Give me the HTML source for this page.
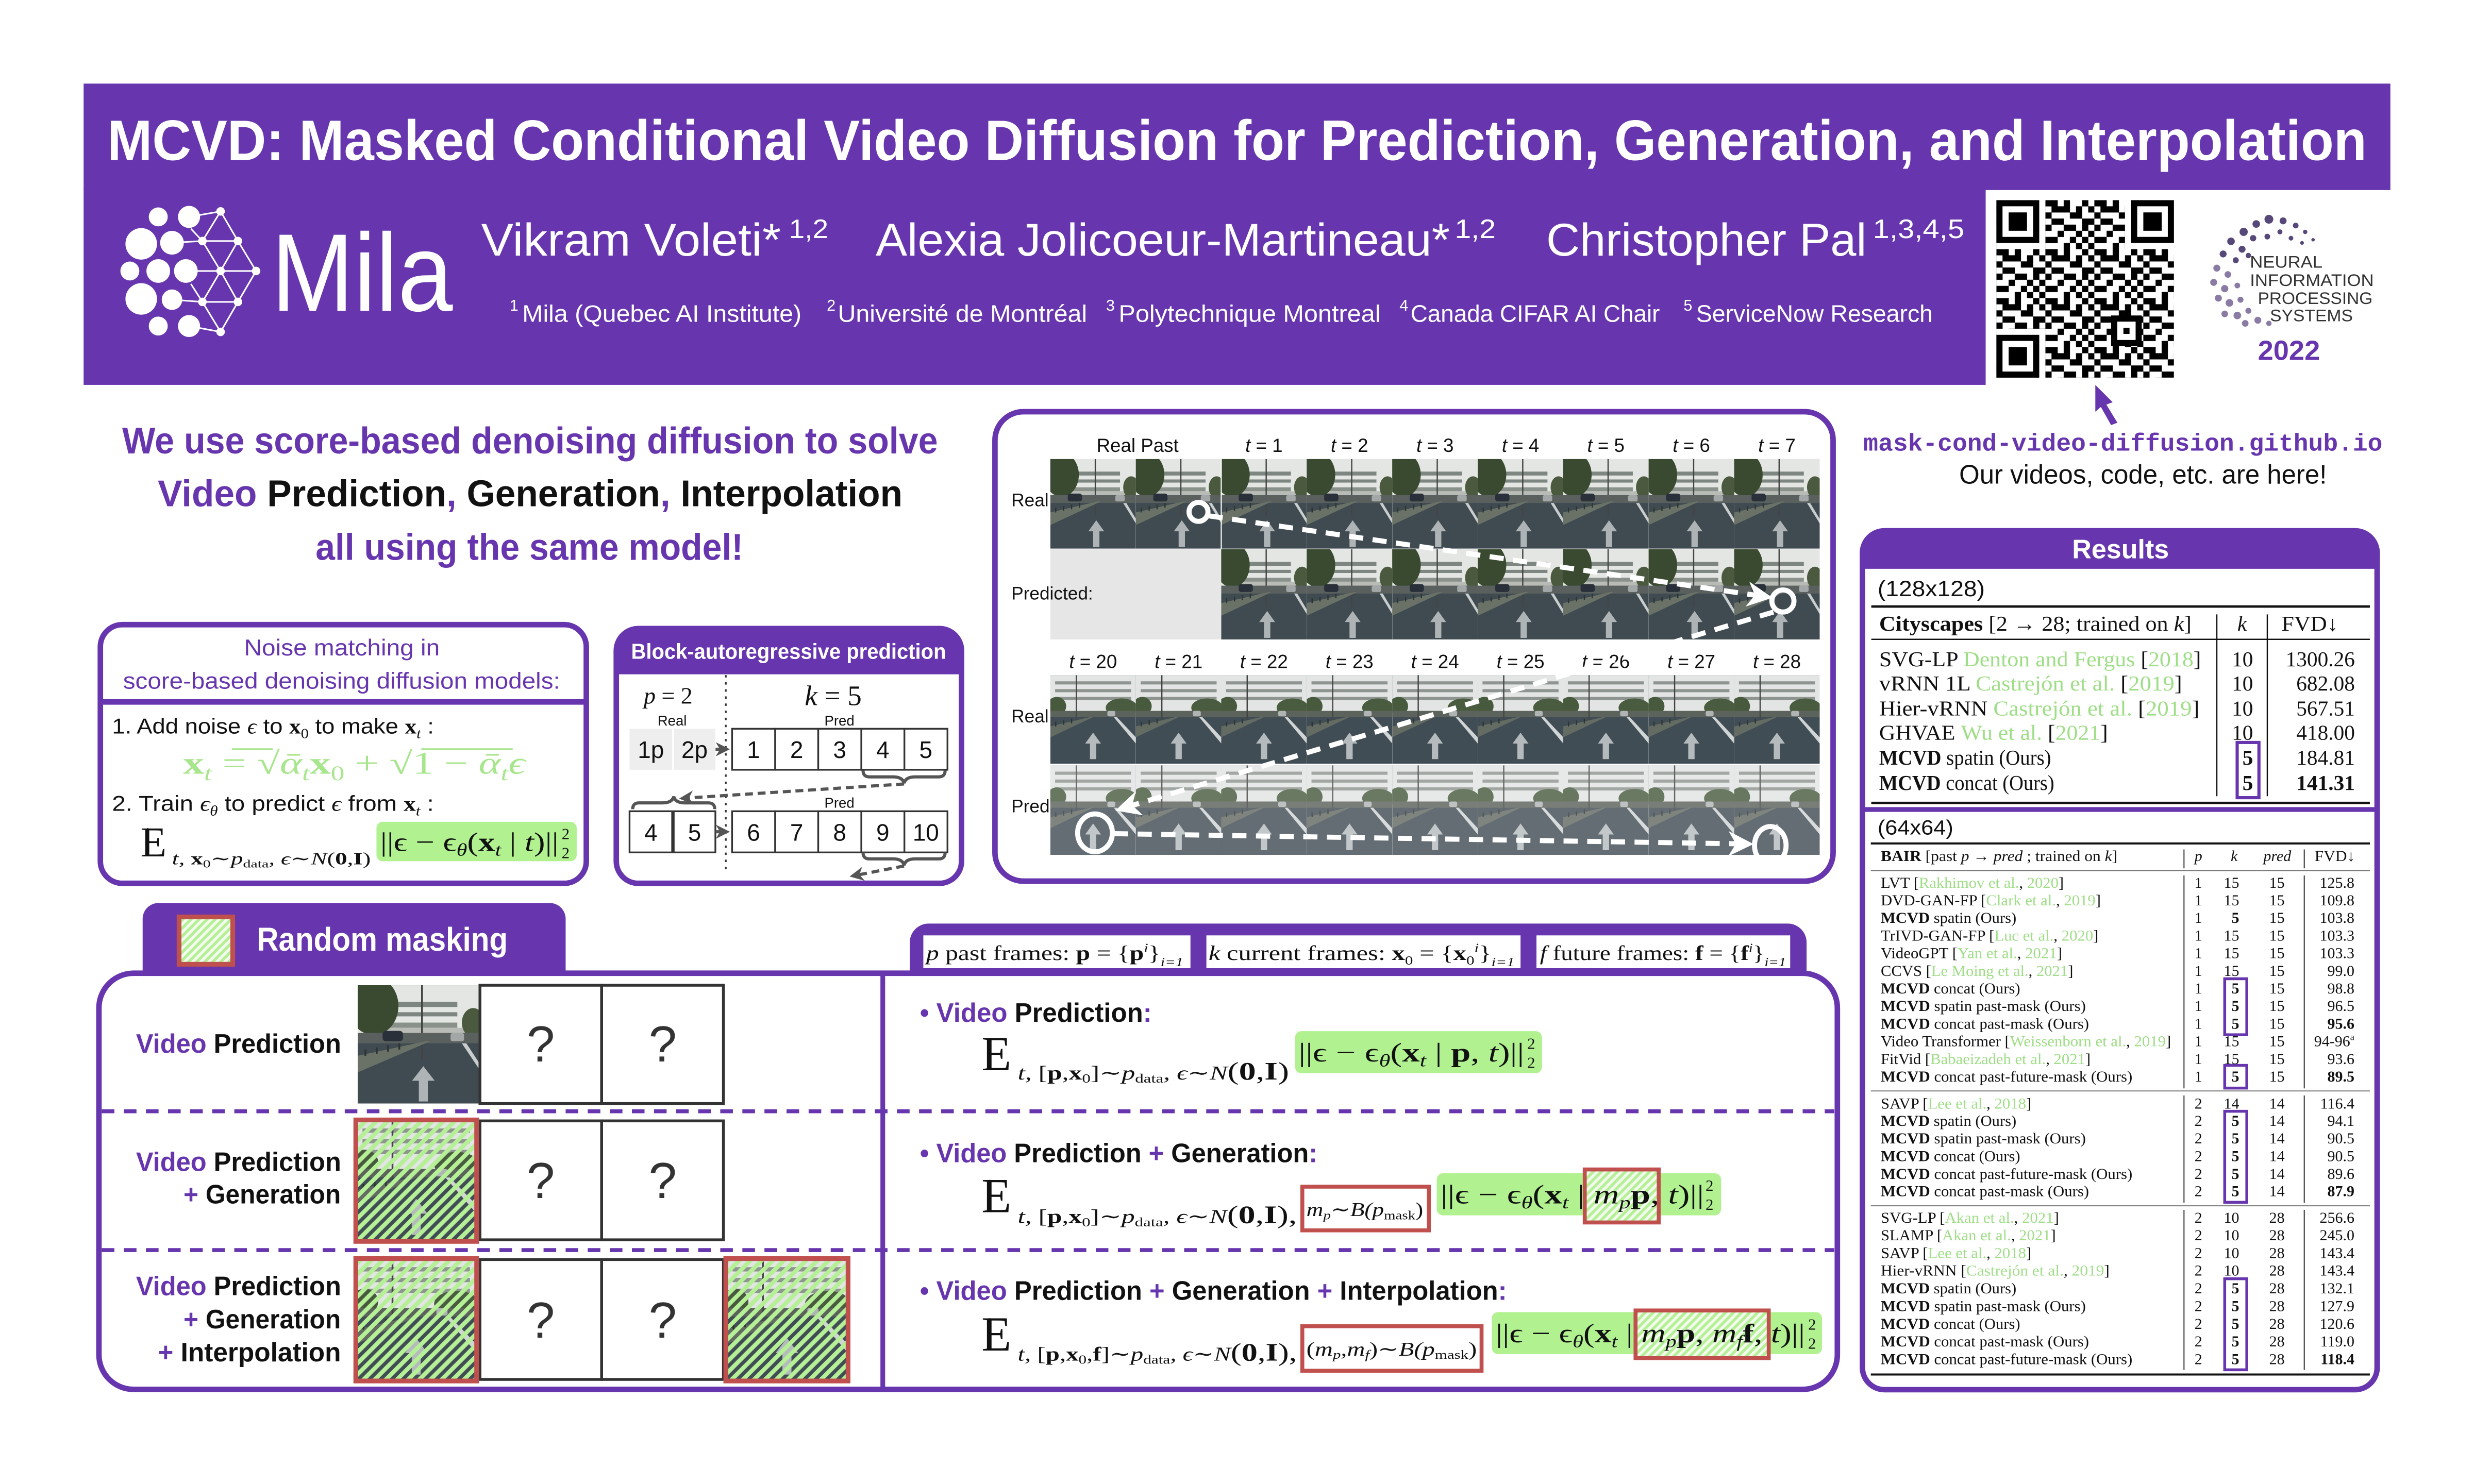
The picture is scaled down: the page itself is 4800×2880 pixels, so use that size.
<!DOCTYPE html>
<html><head><meta charset="utf-8"><title>MCVD poster</title>
<style>html,body{margin:0;padding:0;background:#fff;width:4800px;height:2880px;overflow:hidden}svg{display:block}</style></head>
<body>
<svg xmlns="http://www.w3.org/2000/svg" width="4800" height="2880" viewBox="0 0 1568 940.8" preserveAspectRatio="none" font-family="'Liberation Sans','DejaVu Sans',sans-serif">
<defs>
 <pattern id="qr" x="1265.3" y="126.9" width="31.04" height="31.04" patternUnits="userSpaceOnUse">
  <g fill="#000">
   <rect x="0" y="0" width="3.95" height="3.95"/><rect x="3.88" y="0" width="3.95" height="3.95"/><rect x="11.64" y="0" width="3.95" height="3.95"/><rect x="23.28" y="0" width="3.95" height="3.95"/>
   <rect x="3.88" y="3.88" width="3.95" height="3.95"/><rect x="7.76" y="3.88" width="3.95" height="3.95"/><rect x="11.64" y="3.88" width="3.95" height="3.95"/><rect x="19.4" y="3.88" width="3.95" height="3.95"/><rect x="27.16" y="3.88" width="3.95" height="3.95"/>
   <rect x="0" y="7.76" width="3.95" height="3.95"/><rect x="15.52" y="7.76" width="3.95" height="3.95"/><rect x="19.4" y="7.76" width="3.95" height="3.95"/>
   <rect x="3.88" y="11.64" width="3.95" height="3.95"/><rect x="7.76" y="11.64" width="3.95" height="3.95"/><rect x="23.28" y="11.64" width="3.95" height="3.95"/><rect x="27.16" y="11.64" width="3.95" height="3.95"/>
   <rect x="0" y="15.52" width="3.95" height="3.95"/><rect x="11.64" y="15.52" width="3.95" height="3.95"/><rect x="15.52" y="15.52" width="3.95" height="3.95"/><rect x="23.28" y="15.52" width="3.95" height="3.95"/>
   <rect x="7.76" y="19.4" width="3.95" height="3.95"/><rect x="19.4" y="19.4" width="3.95" height="3.95"/><rect x="27.16" y="19.4" width="3.95" height="3.95"/>
   <rect x="0" y="23.28" width="3.95" height="3.95"/><rect x="3.88" y="23.28" width="3.95" height="3.95"/><rect x="15.52" y="23.28" width="3.95" height="3.95"/><rect x="23.28" y="23.28" width="3.95" height="3.95"/>
   <rect x="11.64" y="27.16" width="3.95" height="3.95"/><rect x="19.4" y="27.16" width="3.95" height="3.95"/><rect x="27.16" y="27.16" width="3.95" height="3.95"/>
  </g>
 </pattern>
 <pattern id="hatch" width="5" height="5" patternUnits="userSpaceOnUse" patternTransform="rotate(45)"><rect width="2.7" height="5" fill="#b5ef96"/></pattern>
 <pattern id="hatchw" width="3.6" height="3.6" patternUnits="userSpaceOnUse" patternTransform="rotate(45)"><rect width="3.6" height="3.6" fill="#f2fcec"/><rect width="1.8" height="3.6" fill="#b5ef96"/></pattern>
 <marker id="mw" viewBox="0 0 10 10" refX="6" refY="5" markerWidth="16" markerHeight="16" markerUnits="userSpaceOnUse" orient="auto"><path d="M0,0 L10,5 L0,10 L3,5 Z" fill="#fff"/></marker>
 <marker id="mg" viewBox="0 0 10 10" refX="6" refY="5" markerWidth="9" markerHeight="9" markerUnits="userSpaceOnUse" orient="auto"><path d="M0,0 L10,5 L0,10 L3,5 Z" fill="#555"/></marker>
 <symbol id="fa" viewBox="0 0 54 57" preserveAspectRatio="none">
  <rect width="54" height="57" fill="#3f4a51"/>
  <rect width="54" height="25" fill="#e4e6e3"/>
  <g fill="#7d8680"><rect x="14" y="8" width="30" height="2.5"/><rect x="14" y="13" width="30" height="2"/></g>
  <rect x="14" y="18" width="30" height="2.5" fill="#8a918b"/>
  <rect x="12" y="20.5" width="36" height="4" fill="#b9bcb6"/>
  <ellipse cx="7" cy="10" rx="11" ry="14" fill="#3a4a30"/>
  <ellipse cx="51" cy="18" rx="5" ry="7" fill="#4b5a3e"/>
  <rect x="28" y="0" width="0.8" height="36" fill="#444"/>
  <rect y="23" width="54" height="5" fill="#59605e"/>
  <rect x="11" y="22" width="9" height="5" rx="1.5" fill="#2a303a"/>
  <rect x="41" y="23" width="6" height="4" rx="1" fill="#a3a7a8"/>
  <polygon points="0,34 30,27 32,27 0,42" fill="#6a7268"/>
  <g fill="#2e3430"><rect x="3" y="31" width="0.8" height="3"/><rect x="8" y="30" width="0.8" height="3"/><rect x="13" y="29" width="0.8" height="3"/><rect x="18" y="28" width="0.8" height="3"/></g>
  <polygon points="46,28 48,28 54,38 54,41" fill="#c9cdcd"/>
  <polygon points="24,46 29,39 34,46 31,46 31,56 27,56 27,46" fill="#aeb4b6"/>
 </symbol>
 <symbol id="fb" viewBox="0 0 54 57" preserveAspectRatio="none">
  <rect width="54" height="57" fill="#414d55"/>
  <rect width="54" height="24" fill="#e2e5e3"/>
  <g fill="#8e948f"><rect x="3" y="4" width="48" height="2"/><rect x="3" y="9" width="48" height="2"/><rect x="3" y="14" width="48" height="2"/></g>
  <ellipse cx="4" cy="20" rx="6" ry="6" fill="#475a3d"/>
  <ellipse cx="45" cy="21" rx="10" ry="6" fill="#4a5c3f"/>
  <rect y="23" width="54" height="4" fill="#5c625c"/>
  <rect x="16" y="0" width="0.8" height="30" fill="#444"/>
  <rect x="36" y="23" width="5" height="3.5" rx="1" fill="#b0b4b5"/>
  <polygon points="0,33 25,27 27,27 0,40" fill="#636b62"/>
  <g fill="#2e3430"><rect x="3" y="30" width="0.8" height="3"/><rect x="8" y="29" width="0.8" height="3"/><rect x="13" y="28" width="0.8" height="3"/></g>
  <polygon points="40,27 42,27 54,40 54,44" fill="#d0d4d4"/>
  <polygon points="22,44 27,37 32,44 29,44 29,54 25,54 25,44" fill="#b5bbbd"/>
 </symbol>
</defs>

<rect width="1568" height="940.8" fill="#fff"/>

<!-- HEADER -->
<rect x="53" y="53" width="1462" height="67.5" fill="#6736ae"/>
<rect x="53" y="119" width="1205.5" height="125" fill="#6736ae"/>
<text x="68" y="101.5" font-size="36" font-weight="bold" fill="#fff" textLength="1432" lengthAdjust="spacingAndGlyphs">MCVD: Masked Conditional Video Diffusion for Prediction, Generation, and Interpolation</text>

<!-- Mila logo -->
<g stroke="#fff" stroke-width="1" fill="none">
 <line x1="139.8" y1="134" x2="128.3" y2="152.8"/><line x1="139.8" y1="134" x2="150.8" y2="152.8"/><line x1="128.3" y1="152.8" x2="150.8" y2="152.8"/>
 <line x1="128.3" y1="152.8" x2="139.8" y2="171.8"/><line x1="150.8" y1="152.8" x2="139.8" y2="171.8"/><line x1="150.8" y1="152.8" x2="162.3" y2="171.8"/>
 <line x1="139.8" y1="171.8" x2="162.3" y2="171.8"/><line x1="139.8" y1="171.8" x2="128.3" y2="191.4"/><line x1="139.8" y1="171.8" x2="150.8" y2="191.4"/>
 <line x1="162.3" y1="171.8" x2="150.8" y2="191.4"/><line x1="128.3" y1="191.4" x2="150.8" y2="191.4"/><line x1="128.3" y1="191.4" x2="139.8" y2="210.4"/><line x1="150.8" y1="191.4" x2="139.8" y2="210.4"/>
 <line x1="119.8" y1="137.5" x2="139.8" y2="134"/><line x1="109" y1="153.9" x2="128.3" y2="152.8"/><line x1="117.8" y1="171.8" x2="139.8" y2="171.8"/><line x1="109" y1="190" x2="128.3" y2="191.4"/><line x1="119.8" y1="206.7" x2="139.8" y2="210.4"/>
 <line x1="121" y1="145" x2="128.3" y2="152.8"/><line x1="121" y1="180" x2="128.3" y2="191.4"/>
</g>
<g fill="#fff">
 <circle cx="100.3" cy="137.5" r="6"/><circle cx="119.8" cy="137.5" r="7"/><circle cx="89.5" cy="154.6" r="10"/><circle cx="109" cy="153.9" r="7.5"/>
 <circle cx="82.3" cy="171.8" r="6"/><circle cx="100.3" cy="171.8" r="7.5"/><circle cx="117.8" cy="171.8" r="7.5"/>
 <circle cx="89.5" cy="189.5" r="10"/><circle cx="109" cy="190" r="6.5"/><circle cx="100.3" cy="206.7" r="6"/><circle cx="119.8" cy="206.7" r="7"/>
 <circle cx="139.8" cy="134" r="2.7"/><circle cx="128.3" cy="152.8" r="2.7"/><circle cx="150.8" cy="152.8" r="2.7"/><circle cx="139.8" cy="171.8" r="2.7"/>
 <circle cx="162.3" cy="171.8" r="2.7"/><circle cx="128.3" cy="191.4" r="2.7"/><circle cx="150.8" cy="191.4" r="2.7"/><circle cx="139.8" cy="210.4" r="2.7"/>
</g>
<text x="172" y="197" font-size="70" fill="#fff" textLength="115" lengthAdjust="spacingAndGlyphs">Mila</text>

<!-- Authors -->
<g fill="#fff">
 <text x="305" y="162" font-size="29" textLength="190" lengthAdjust="spacingAndGlyphs">Vikram Voleti*</text>
 <text x="500" y="151" font-size="17" textLength="25" lengthAdjust="spacingAndGlyphs">1,2</text>
 <text x="555" y="162" font-size="29" textLength="364" lengthAdjust="spacingAndGlyphs">Alexia Jolicoeur-Martineau*</text>
 <text x="922" y="151" font-size="17" textLength="26" lengthAdjust="spacingAndGlyphs">1,2</text>
 <text x="980" y="162" font-size="29" textLength="203" lengthAdjust="spacingAndGlyphs">Christopher Pal</text>
 <text x="1187" y="151" font-size="17" textLength="58" lengthAdjust="spacingAndGlyphs">1,3,4,5</text>
 <g font-size="10">
  <text x="323" y="197">1</text><text x="524" y="197">2</text><text x="701" y="197">3</text><text x="887" y="197">4</text><text x="1067" y="197">5</text>
 </g>
 <g font-size="15">
  <text x="331" y="204" textLength="177" lengthAdjust="spacingAndGlyphs">Mila (Quebec AI Institute)</text>
  <text x="531" y="204" textLength="158" lengthAdjust="spacingAndGlyphs">Université de Montréal</text>
  <text x="709" y="204" textLength="166" lengthAdjust="spacingAndGlyphs">Polytechnique Montreal</text>
  <text x="894" y="204" textLength="158" lengthAdjust="spacingAndGlyphs">Canada CIFAR AI Chair</text>
  <text x="1075" y="204" textLength="150" lengthAdjust="spacingAndGlyphs">ServiceNow Research</text>
 </g>
</g>

<!-- QR -->
<rect x="1265.3" y="126.9" width="112.5" height="112.5" fill="url(#qr)"/>
<g>
 <rect x="1265.3" y="126.9" width="31.04" height="31.04" fill="#fff"/>
 <rect x="1346.8" y="126.9" width="31.04" height="31.04" fill="#fff"/>
 <rect x="1265.3" y="208.4" width="31.04" height="31.04" fill="#fff"/>
 <rect x="1265.3" y="126.9" width="27.16" height="27.16" fill="#000"/><rect x="1269.18" y="130.78" width="19.4" height="19.4" fill="#fff"/><rect x="1273.06" y="134.66" width="11.64" height="11.64" fill="#000"/>
 <rect x="1350.66" y="126.9" width="27.16" height="27.16" fill="#000"/><rect x="1354.54" y="130.78" width="19.4" height="19.4" fill="#fff"/><rect x="1358.42" y="134.66" width="11.64" height="11.64" fill="#000"/>
 <rect x="1265.3" y="212.26" width="27.16" height="27.16" fill="#000"/><rect x="1269.18" y="216.14" width="19.4" height="19.4" fill="#fff"/><rect x="1273.06" y="220.02" width="11.64" height="11.64" fill="#000"/>
 <rect x="1338" y="200" width="19.4" height="19.4" fill="#000"/><rect x="1341.9" y="203.9" width="11.64" height="11.64" fill="#fff"/><rect x="1345.8" y="207.8" width="3.88" height="3.88" fill="#000"/>
</g>
<path d="M1328,244 L1339,255 L1335,256.5 L1342,268 L1338,269.5 L1331.5,258 L1328,261 Z" fill="#6736ae"/>

<!-- NeurIPS -->
<g fill="#564878">
 <circle cx="1422" cy="147" r="2.6"/><circle cx="1430" cy="142" r="2.4"/><circle cx="1438" cy="139" r="2.8"/><circle cx="1447" cy="140" r="2.2"/><circle cx="1455" cy="143" r="1.8"/><circle cx="1461" cy="147" r="1.4"/><circle cx="1466" cy="152" r="1.1"/>
 <circle cx="1428" cy="151" r="2"/><circle cx="1437" cy="150" r="1.8"/><circle cx="1445" cy="147" r="1.6"/><circle cx="1452" cy="151" r="1.5"/><circle cx="1459" cy="154" r="1.2"/>
 <circle cx="1414" cy="153" r="2.4"/><circle cx="1421" cy="158" r="2.2"/><circle cx="1409" cy="161" r="2.2"/><circle cx="1417" cy="165" r="1.9"/><circle cx="1425" cy="162" r="1.7"/>
</g>
<g fill="#8a7ba4">
 <circle cx="1405" cy="170" r="2.2"/><circle cx="1412" cy="174" r="2.1"/><circle cx="1403" cy="179" r="2.2"/><circle cx="1410" cy="183" r="2.3"/><circle cx="1418" cy="181" r="1.8"/>
 <circle cx="1406" cy="189" r="2.2"/><circle cx="1413" cy="192" r="2.4"/><circle cx="1420" cy="190" r="1.9"/><circle cx="1410" cy="199" r="2.1"/><circle cx="1418" cy="200" r="2.4"/>
 <circle cx="1425" cy="197" r="1.9"/><circle cx="1423" cy="205" r="2.1"/><circle cx="1431" cy="203" r="2.2"/><circle cx="1438" cy="205" r="1.7"/>
</g>
<g fill="#333" font-size="10.5">
 <text x="1426" y="169.7" textLength="46" lengthAdjust="spacingAndGlyphs">NEURAL</text>
 <text x="1426" y="181.3" textLength="78.5" lengthAdjust="spacingAndGlyphs">INFORMATION</text>
 <text x="1431" y="192.7" textLength="72.7" lengthAdjust="spacingAndGlyphs">PROCESSING</text>
 <text x="1438.7" y="203.6" textLength="52.5" lengthAdjust="spacingAndGlyphs">SYSTEMS</text>
</g>
<text x="1431" y="228.1" font-size="17.5" font-weight="bold" fill="#6736ae" textLength="39.4" lengthAdjust="spacingAndGlyphs">2022</text>

<!-- LEFT HEADLINE -->
<g font-size="23.5" font-weight="bold">
 <text x="77.4" y="287.5" fill="#6736ae" textLength="517" lengthAdjust="spacingAndGlyphs">We use score-based denoising diffusion to solve</text>
 <text x="100" y="321" fill="#111" textLength="472" lengthAdjust="spacingAndGlyphs"><tspan fill="#6736ae">Video</tspan> Prediction<tspan fill="#6736ae">,</tspan> Generation<tspan fill="#6736ae">,</tspan> Interpolation</text>
 <text x="200" y="355" fill="#6736ae" textLength="271" lengthAdjust="spacingAndGlyphs">all using the same model!</text>
</g>

<!-- NOISE MATCHING BOX -->
<rect x="63.6" y="396" width="308" height="164" rx="14" fill="#fff" stroke="#6736ae" stroke-width="3.5"/>
<line x1="63.6" y1="445" x2="371.6" y2="445" stroke="#6736ae" stroke-width="3.5"/>
<text x="154.7" y="415.6" font-size="14.5" fill="#6736ae" textLength="124" lengthAdjust="spacingAndGlyphs">Noise matching in</text>
<text x="78" y="436.6" font-size="14.5" fill="#6736ae" textLength="277" lengthAdjust="spacingAndGlyphs">score-based denoising diffusion models:</text>
<text x="71" y="465" font-size="13.5" fill="#111" textLength="204" lengthAdjust="spacingAndGlyphs">1. Add noise <tspan font-family="'Liberation Serif','DejaVu Serif',serif" font-style="italic">ϵ</tspan> to <tspan font-family="'Liberation Serif',serif" font-weight="bold">x</tspan><tspan font-family="'Liberation Serif',serif" font-size="9" dy="3">0</tspan><tspan dy="-3"> to make </tspan><tspan font-family="'Liberation Serif',serif" font-weight="bold">x</tspan><tspan font-family="'Liberation Serif',serif" font-style="italic" font-size="9" dy="3">t</tspan><tspan dy="-3"> :</tspan></text>
<text x="116" y="490.5" font-family="'Liberation Serif','DejaVu Serif',serif" font-size="20" fill="#a8e68d" textLength="217" lengthAdjust="spacingAndGlyphs"><tspan font-weight="bold">x</tspan><tspan font-style="italic" font-size="13" dy="4">t</tspan><tspan dy="-4"> = √</tspan><tspan font-style="italic">ᾱ</tspan><tspan font-style="italic" font-size="13" dy="4">t</tspan><tspan dy="-4" font-weight="bold">x</tspan><tspan font-size="13" dy="4">0</tspan><tspan dy="-4"> + √1 − </tspan><tspan font-style="italic">ᾱ</tspan><tspan font-style="italic" font-size="13" dy="4">t</tspan><tspan dy="-4" font-style="italic">ϵ</tspan></text>
<line x1="267" y1="475" x2="325" y2="475" stroke="#a8e68d" stroke-width="1.2"/>
<line x1="147" y1="475" x2="173" y2="475" stroke="#a8e68d" stroke-width="1.2"/>
<text x="71" y="514" font-size="13.5" fill="#111" textLength="204" lengthAdjust="spacingAndGlyphs">2. Train <tspan font-family="'Liberation Serif','DejaVu Serif',serif" font-style="italic">ϵ</tspan><tspan font-family="'Liberation Serif',serif" font-style="italic" font-size="9" dy="3">θ</tspan><tspan dy="-3"> to predict </tspan><tspan font-family="'Liberation Serif','DejaVu Serif',serif" font-style="italic">ϵ</tspan> from <tspan font-family="'Liberation Serif',serif" font-weight="bold">x</tspan><tspan font-family="'Liberation Serif',serif" font-style="italic" font-size="9" dy="3">t</tspan><tspan dy="-3"> :</tspan></text>
<text x="89" y="543" font-family="'Liberation Serif',serif" font-size="27" fill="#111">E</text>
<line x1="93.6" y1="525" x2="93.6" y2="542" stroke="#111" stroke-width="0.9"/>
<text x="109" y="548" font-family="'Liberation Serif','DejaVu Serif',serif" font-size="11" font-style="italic" fill="#111" textLength="126" lengthAdjust="spacingAndGlyphs">t, <tspan font-weight="bold" font-style="normal">x</tspan><tspan font-size="7" dy="2" font-style="normal">0</tspan><tspan dy="-2">∼p</tspan><tspan font-size="7" dy="2" font-style="normal">data</tspan><tspan dy="-2">, ϵ∼N</tspan><tspan font-style="normal">(<tspan font-weight="bold">0</tspan>,<tspan font-weight="bold">I</tspan>)</tspan></text>
<rect x="238.6" y="521" width="126.9" height="25" rx="4" fill="#b1f190"/>
<text x="241" y="539.5" font-family="'Liberation Serif','DejaVu Serif',serif" font-size="17" fill="#111" textLength="113" lengthAdjust="spacingAndGlyphs">||ϵ − ϵ<tspan font-size="11" dy="3" font-style="italic">θ</tspan><tspan dy="-3">(</tspan><tspan font-weight="bold">x</tspan><tspan font-size="11" dy="3" font-style="italic">t</tspan><tspan dy="-3"> | </tspan><tspan font-style="italic">t</tspan>)||</text>
<text x="356" y="532" font-family="'Liberation Serif',serif" font-size="10" fill="#111">2</text>
<text x="356" y="544" font-family="'Liberation Serif',serif" font-size="10" fill="#111">2</text>

<!-- BLOCK AUTOREGRESSIVE -->
<rect x="390.6" y="398.5" width="218.8" height="161.5" rx="14" fill="#fff" stroke="#6736ae" stroke-width="3.5"/>
<path d="M390.6,427.5 V412.5 a14,14 0 0 1 14,-14 H595.4 a14,14 0 0 1 14,14 V427.5 Z" fill="#6736ae"/>
<text x="400" y="417.6" font-size="13.5" font-weight="bold" fill="#fff" textLength="199.6" lengthAdjust="spacingAndGlyphs">Block-autoregressive prediction</text>
<line x1="460" y1="428" x2="460" y2="552" stroke="#333" stroke-width="1.1" stroke-dasharray="1.5 3"/>
<text x="408" y="446" font-family="'Liberation Serif',serif" font-size="15" fill="#111"><tspan font-style="italic">p</tspan> = 2</text>
<text x="510" y="447" font-family="'Liberation Serif',serif" font-size="18" fill="#111"><tspan font-style="italic">k</tspan> = 5</text>
<g font-size="9" fill="#111" text-anchor="middle"><text x="426" y="460">Real</text><text x="532" y="460">Pred</text><text x="532" y="512">Pred</text></g>
<rect x="399" y="462" width="27" height="26" fill="#eee"/><rect x="427" y="462" width="26.4" height="26" fill="#eee"/>
<g fill="#fff" stroke="#333" stroke-width="1.1">
 <rect x="464" y="462" width="27.3" height="26"/><rect x="491.3" y="462" width="27.3" height="26"/><rect x="518.6" y="462" width="27.3" height="26"/><rect x="545.9" y="462" width="27.3" height="26"/><rect x="573.2" y="462" width="27.3" height="26"/>
 <rect x="399" y="514.3" width="27" height="26.1"/><rect x="427" y="514.3" width="26.4" height="26.1"/>
 <rect x="464" y="514.3" width="27.3" height="26.1"/><rect x="491.3" y="514.3" width="27.3" height="26.1"/><rect x="518.6" y="514.3" width="27.3" height="26.1"/><rect x="545.9" y="514.3" width="27.3" height="26.1"/><rect x="573.2" y="514.3" width="27.3" height="26.1"/>
</g>
<g font-size="15" fill="#111" text-anchor="middle">
 <text x="412.5" y="480.5">1p</text><text x="440.2" y="480.5">2p</text>
 <text x="477.6" y="480.5">1</text><text x="504.9" y="480.5">2</text><text x="532.2" y="480.5">3</text><text x="559.5" y="480.5">4</text><text x="586.8" y="480.5">5</text>
 <text x="412.5" y="533">4</text><text x="440.2" y="533">5</text>
 <text x="477.6" y="533">6</text><text x="504.9" y="533">7</text><text x="532.2" y="533">8</text><text x="559.5" y="533">9</text><text x="586.8" y="533">10</text>
</g>
<g stroke="#555" stroke-width="2" fill="none">
 <line x1="453.5" y1="475" x2="459" y2="475" marker-end="url(#mg)"/>
 <line x1="453.5" y1="527.3" x2="459" y2="527.3" marker-end="url(#mg)"/>
 <path d="M547,488.5 q0,4 4,4 h15 q6,0 7,4 q1,-4 7,-4 h15 q4,0 4,-4"/>
 <path d="M401,513 q0,-4 4,-4 h15 q6,0 7,-4 q1,4 7,4 h15 q4,0 4,4"/>
 <path d="M547,540.5 q0,4 4,4 h15 q6,0 7,4 q1,-4 7,-4 h15 q4,0 4,-4"/>
 <line x1="573" y1="497" x2="434" y2="506" stroke-dasharray="5 3" marker-end="url(#mg)"/>
 <line x1="573" y1="549" x2="542" y2="555" stroke-dasharray="5 3" marker-end="url(#mg)"/>
</g>

<!-- VIDEO PANEL -->
<rect x="630.6" y="261" width="531.2" height="297.6" rx="18" fill="#fff" stroke="#6736ae" stroke-width="3.5"/>
<g font-size="12" fill="#111" text-anchor="middle">
 <text x="721" y="286.5">Real Past</text>
 <text x="801.1" y="286.5"><tspan font-style="italic">t</tspan> = 1</text>
 <text x="855.3" y="286.5"><tspan font-style="italic">t</tspan> = 2</text>
 <text x="909.5" y="286.5"><tspan font-style="italic">t</tspan> = 3</text>
 <text x="963.7" y="286.5"><tspan font-style="italic">t</tspan> = 4</text>
 <text x="1017.8" y="286.5"><tspan font-style="italic">t</tspan> = 5</text>
 <text x="1072" y="286.5"><tspan font-style="italic">t</tspan> = 6</text>
 <text x="1126.2" y="286.5"><tspan font-style="italic">t</tspan> = 7</text>
 <text x="692.8" y="423.5"><tspan font-style="italic">t</tspan> = 20</text>
 <text x="747" y="423.5"><tspan font-style="italic">t</tspan> = 21</text>
 <text x="801.1" y="423.5"><tspan font-style="italic">t</tspan> = 22</text>
 <text x="855.3" y="423.5"><tspan font-style="italic">t</tspan> = 23</text>
 <text x="909.5" y="423.5"><tspan font-style="italic">t</tspan> = 24</text>
 <text x="963.7" y="423.5"><tspan font-style="italic">t</tspan> = 25</text>
 <text x="1017.8" y="423.5"><tspan font-style="italic">t</tspan> = 26</text>
 <text x="1072" y="423.5"><tspan font-style="italic">t</tspan> = 27</text>
 <text x="1126.2" y="423.5"><tspan font-style="italic">t</tspan> = 28</text>
</g>
<g>
 <use href="#fa" x="665.7" y="291" width="54.2" height="56.8"/><use href="#fa" x="719.9" y="291" width="54.2" height="56.8"/><use href="#fa" x="774" y="291" width="54.2" height="56.8"/>
 <use href="#fa" x="828.2" y="291" width="54.2" height="56.8"/><use href="#fa" x="882.4" y="291" width="54.2" height="56.8"/><use href="#fa" x="936.6" y="291" width="54.2" height="56.8"/>
 <use href="#fa" x="990.7" y="291" width="54.2" height="56.8"/><use href="#fa" x="1044.9" y="291" width="54.2" height="56.8"/><use href="#fa" x="1099.1" y="291" width="54.2" height="56.8"/>
 <rect x="665.7" y="348.2" width="108.3" height="57.2" fill="#e6e6e6"/>
 <use href="#fa" x="774" y="348.2" width="54.2" height="57.2"/><use href="#fa" x="828.2" y="348.2" width="54.2" height="57.2"/><use href="#fa" x="882.4" y="348.2" width="54.2" height="57.2"/>
 <use href="#fa" x="936.6" y="348.2" width="54.2" height="57.2"/><use href="#fa" x="990.7" y="348.2" width="54.2" height="57.2"/><use href="#fa" x="1044.9" y="348.2" width="54.2" height="57.2"/><use href="#fa" x="1099.1" y="348.2" width="54.2" height="57.2"/>
 <use href="#fb" x="665.7" y="428" width="54.2" height="56.2"/><use href="#fb" x="719.9" y="428" width="54.2" height="56.2"/><use href="#fb" x="774" y="428" width="54.2" height="56.2"/>
 <use href="#fb" x="828.2" y="428" width="54.2" height="56.2"/><use href="#fb" x="882.4" y="428" width="54.2" height="56.2"/><use href="#fb" x="936.6" y="428" width="54.2" height="56.2"/>
 <use href="#fb" x="990.7" y="428" width="54.2" height="56.2"/><use href="#fb" x="1044.9" y="428" width="54.2" height="56.2"/><use href="#fb" x="1099.1" y="428" width="54.2" height="56.2"/>
 <use href="#fb" x="665.7" y="485.2" width="54.2" height="56.8"/><use href="#fb" x="719.9" y="485.2" width="54.2" height="56.8"/><use href="#fb" x="774" y="485.2" width="54.2" height="56.8"/>
 <use href="#fb" x="828.2" y="485.2" width="54.2" height="56.8"/><use href="#fb" x="882.4" y="485.2" width="54.2" height="56.8"/><use href="#fb" x="936.6" y="485.2" width="54.2" height="56.8"/>
 <use href="#fb" x="990.7" y="485.2" width="54.2" height="56.8"/><use href="#fb" x="1044.9" y="485.2" width="54.2" height="56.8"/><use href="#fb" x="1099.1" y="485.2" width="54.2" height="56.8"/>
 <rect x="665.7" y="485.2" width="487.6" height="56.8" fill="#fff" opacity="0.18"/>
 <line x1="774" y1="291" x2="774" y2="347.8" stroke="#fff" stroke-width="0.7"/>
</g>
<g font-size="11.5" fill="#111">
 <text x="641" y="321">Real</text><text x="641" y="380">Predicted:</text><text x="641" y="458">Real</text><text x="641" y="515">Pred</text>
</g>
<g stroke="#fff" stroke-width="3.2" fill="none">
 <circle cx="759.6" cy="324.5" r="6"/>
 <line x1="766" y1="327" x2="1117" y2="378" stroke-dasharray="9 6" marker-end="url(#mw)"/>
 <circle cx="1130" cy="381" r="7"/>
 <line x1="1124" y1="388" x2="713" y2="512" stroke-dasharray="9 6" marker-end="url(#mw)"/>
 <ellipse cx="694" cy="528" rx="11" ry="12"/>
 <line x1="706" y1="528.5" x2="1105" y2="535" stroke-dasharray="9 6" marker-end="url(#mw)"/>
 <ellipse cx="1122" cy="536" rx="10" ry="12"/>
</g>

<!-- RANDOM MASKING / FORMULA PANEL -->
<rect x="62.7" y="617" width="1101.8" height="263.8" rx="22" fill="#fff" stroke="#6736ae" stroke-width="3.5"/>
<path d="M90.4,618.5 V582.5 a10,10 0 0 1 10,-10 H348.5 a10,10 0 0 1 10,10 V618.5 Z" fill="#6736ae"/>
<rect x="113.5" y="581.3" width="34" height="30" fill="url(#hatchw)" stroke="#c0504d" stroke-width="3"/>
<text x="162.8" y="602.7" font-size="21" font-weight="bold" fill="#fff" textLength="159" lengthAdjust="spacingAndGlyphs">Random masking</text>
<path d="M576.6,618.5 V597.5 a12,12 0 0 1 12,-12 H1133 a12,12 0 0 1 12,12 V618.5 Z" fill="#6736ae"/>
<line x1="559.5" y1="617" x2="559.5" y2="880.8" stroke="#6736ae" stroke-width="3"/>
<g stroke="#6736ae" stroke-width="2.5" stroke-dasharray="8 6">
 <line x1="64.5" y1="704.5" x2="1162.5" y2="704.5"/><line x1="64.5" y1="792.5" x2="1162.5" y2="792.5"/>
</g>
<g font-size="17" font-weight="bold" fill="#111">
 <text x="86.2" y="667.3" textLength="130" lengthAdjust="spacingAndGlyphs"><tspan fill="#6736ae">Video</tspan> Prediction</text>
 <text x="86.2" y="742.3" textLength="130" lengthAdjust="spacingAndGlyphs"><tspan fill="#6736ae">Video</tspan> Prediction</text>
 <text x="116.3" y="763" textLength="99.7" lengthAdjust="spacingAndGlyphs"><tspan fill="#6736ae">+</tspan> Generation</text>
 <text x="86.2" y="821" textLength="130" lengthAdjust="spacingAndGlyphs"><tspan fill="#6736ae">Video</tspan> Prediction</text>
 <text x="116.3" y="842.2" textLength="99.7" lengthAdjust="spacingAndGlyphs"><tspan fill="#6736ae">+</tspan> Generation</text>
 <text x="100.1" y="863" textLength="116" lengthAdjust="spacingAndGlyphs"><tspan fill="#6736ae">+</tspan> Interpolation</text>
</g>
<use href="#fa" x="226.7" y="624.6" width="77.5" height="75"/>
<g fill="#fff" stroke="#333" stroke-width="1.8">
 <rect x="304.2" y="624.6" width="77.1" height="75"/><rect x="381.3" y="624.6" width="77.2" height="75"/>
 <rect x="304.2" y="710.6" width="77.1" height="75.4"/><rect x="381.3" y="710.6" width="77.2" height="75.4"/>
 <rect x="304.2" y="798.5" width="77.1" height="76"/><rect x="381.3" y="798.5" width="77.2" height="76"/>
</g>
<use href="#fb" x="225.5" y="710" width="76.6" height="77"/>
<rect x="225.5" y="710" width="76.6" height="77" fill="url(#hatch)" stroke="#c0504d" stroke-width="3"/>
<use href="#fb" x="225.5" y="797.9" width="76.6" height="77.6"/>
<rect x="225.5" y="797.9" width="76.6" height="77.6" fill="url(#hatch)" stroke="#c0504d" stroke-width="3"/>
<use href="#fb" x="460" y="797.9" width="77.5" height="77.6"/>
<rect x="460" y="797.9" width="77.5" height="77.6" fill="url(#hatch)" stroke="#c0504d" stroke-width="3"/>
<g font-size="32" fill="#333" text-anchor="middle">
 <text x="342.7" y="673">?</text><text x="420" y="673">?</text>
 <text x="342.7" y="759.5">?</text><text x="420" y="759.5">?</text>
 <text x="342.7" y="848">?</text><text x="420" y="848">?</text>
</g>

<!-- frame definition boxes -->
<g font-family="'Liberation Serif','DejaVu Serif',serif" font-size="13" fill="#111">
 <rect x="585.2" y="593" width="169.3" height="20.8" fill="#fff"/>
 <rect x="764.6" y="593" width="199.1" height="20.8" fill="#fff"/>
 <rect x="973.8" y="593" width="160.8" height="20.8" fill="#fff"/>
 <text x="587" y="608.5" textLength="163" lengthAdjust="spacingAndGlyphs"><tspan font-style="italic">p</tspan> past frames: <tspan font-weight="bold">p</tspan> = {<tspan font-weight="bold">p</tspan><tspan font-size="8" dy="-5" font-style="italic">i</tspan><tspan dy="5">}</tspan><tspan font-size="8" dy="4" font-style="italic">i=1</tspan></text>
 <text x="766" y="608.5" textLength="194" lengthAdjust="spacingAndGlyphs"><tspan font-style="italic">k</tspan> current frames: <tspan font-weight="bold">x</tspan><tspan font-size="8" dy="3">0</tspan><tspan dy="-3"> = {</tspan><tspan font-weight="bold">x</tspan><tspan font-size="8" dy="3">0</tspan><tspan font-size="8" dy="-8" font-style="italic">i</tspan><tspan dy="5">}</tspan><tspan font-size="8" dy="4" font-style="italic">i=1</tspan></text>
 <text x="976" y="608.5" textLength="156" lengthAdjust="spacingAndGlyphs"><tspan font-style="italic">f</tspan> future frames: <tspan font-weight="bold">f</tspan> = {<tspan font-weight="bold">f</tspan><tspan font-size="8" dy="-5" font-style="italic">i</tspan><tspan dy="5">}</tspan><tspan font-size="8" dy="4" font-style="italic">i=1</tspan></text>
</g>

<!-- formulas -->
<g font-size="17" font-weight="bold" fill="#111">
 <text x="583" y="647.8" textLength="147" lengthAdjust="spacingAndGlyphs"><tspan fill="#6736ae">• Video</tspan> Prediction<tspan fill="#6736ae">:</tspan></text>
 <text x="583" y="736.8" textLength="252" lengthAdjust="spacingAndGlyphs"><tspan fill="#6736ae">• Video</tspan> Prediction <tspan fill="#6736ae">+</tspan> Generation<tspan fill="#6736ae">:</tspan></text>
 <text x="583" y="824" textLength="372" lengthAdjust="spacingAndGlyphs"><tspan fill="#6736ae">• Video</tspan> Prediction <tspan fill="#6736ae">+</tspan> Generation <tspan fill="#6736ae">+</tspan> Interpolation<tspan fill="#6736ae">:</tspan></text>
</g>
<g font-family="'Liberation Serif','DejaVu Serif',serif" fill="#111">
 <text x="622" y="678.5" font-size="31">E</text><line x1="627.3" y1="658" x2="627.3" y2="677.5" stroke="#111" stroke-width="1"/>
 <text x="622" y="768.5" font-size="31">E</text><line x1="627.3" y1="748" x2="627.3" y2="767.5" stroke="#111" stroke-width="1"/>
 <text x="622" y="856.2" font-size="31">E</text><line x1="627.3" y1="835.7" x2="627.3" y2="855.2" stroke="#111" stroke-width="1"/>
 <text x="645" y="684.4" font-size="12.5" font-style="italic" textLength="172" lengthAdjust="spacingAndGlyphs">t,   <tspan font-style="normal">[<tspan font-weight="bold">p</tspan>,<tspan font-weight="bold">x</tspan><tspan font-size="8" dy="2">0</tspan><tspan dy="-2">]</tspan></tspan>∼p<tspan font-size="8" dy="2" font-style="normal">data</tspan><tspan dy="-2">,    ϵ∼N</tspan><tspan font-style="normal" font-size="16">(<tspan font-weight="bold">0</tspan>,<tspan font-weight="bold">I</tspan>)</tspan></text>
 <text x="645" y="775.4" font-size="12.5" font-style="italic" textLength="177" lengthAdjust="spacingAndGlyphs">t,   <tspan font-style="normal">[<tspan font-weight="bold">p</tspan>,<tspan font-weight="bold">x</tspan><tspan font-size="8" dy="2">0</tspan><tspan dy="-2">]</tspan></tspan>∼p<tspan font-size="8" dy="2" font-style="normal">data</tspan><tspan dy="-2">,    ϵ∼N</tspan><tspan font-style="normal" font-size="16">(<tspan font-weight="bold">0</tspan>,<tspan font-weight="bold">I</tspan>),</tspan></text>
 <text x="645" y="862.5" font-size="12.5" font-style="italic" textLength="177" lengthAdjust="spacingAndGlyphs">t, <tspan font-style="normal">[<tspan font-weight="bold">p</tspan>,<tspan font-weight="bold">x</tspan><tspan font-size="8" dy="2">0</tspan><tspan dy="-2">,</tspan><tspan font-weight="bold">f</tspan>]</tspan>∼p<tspan font-size="8" dy="2" font-style="normal">data</tspan><tspan dy="-2">, ϵ∼N</tspan><tspan font-style="normal" font-size="16">(<tspan font-weight="bold">0</tspan>,<tspan font-weight="bold">I</tspan>),</tspan></text>

 <rect x="820.8" y="653.7" width="156.5" height="26.7" rx="4" fill="#b1f190"/>
 <text x="823" y="673" font-size="17" textLength="143" lengthAdjust="spacingAndGlyphs">||ϵ − ϵ<tspan font-size="11" dy="3" font-style="italic">θ</tspan><tspan dy="-3">(</tspan><tspan font-weight="bold">x</tspan><tspan font-size="11" dy="3" font-style="italic">t</tspan><tspan dy="-3"> | </tspan><tspan font-weight="bold">p</tspan>, <tspan font-style="italic">t</tspan>)||</text>
 <text x="968" y="665" font-size="10">2</text><text x="968" y="677" font-size="10">2</text>

 <rect x="825.4" y="752.3" width="80.2" height="27.7" fill="#fff" stroke="#c0504d" stroke-width="2.5"/>
 <text x="828" y="771" font-size="12.5" font-style="italic" textLength="74" lengthAdjust="spacingAndGlyphs">m<tspan font-size="8" dy="2">p</tspan><tspan dy="-2">∼B(p</tspan><tspan font-size="8" dy="2" font-style="normal">mask</tspan><tspan dy="-2" font-style="normal">)</tspan></text>
 <rect x="910.6" y="743.8" width="180.2" height="26.7" rx="4" fill="#b1f190"/>
 <rect x="1004.4" y="741.4" width="46.9" height="33.6" fill="url(#hatchw)" stroke="#c0504d" stroke-width="2.5"/>
 <text x="913" y="763" font-size="17" textLength="167" lengthAdjust="spacingAndGlyphs">||ϵ − ϵ<tspan font-size="11" dy="3" font-style="italic">θ</tspan><tspan dy="-3">(</tspan><tspan font-weight="bold">x</tspan><tspan font-size="11" dy="3" font-style="italic">t</tspan><tspan dy="-3"> | </tspan><tspan font-style="italic">m</tspan><tspan font-size="11" dy="3" font-style="italic">p</tspan><tspan dy="-3" font-weight="bold">p</tspan>, <tspan font-style="italic">t</tspan>)||</text>
 <text x="1081" y="755" font-size="10">2</text><text x="1081" y="767" font-size="10">2</text>

 <rect x="825.4" y="840.8" width="113.6" height="28.2" fill="#fff" stroke="#c0504d" stroke-width="2.5"/>
 <text x="828" y="859.5" font-size="12.5" font-style="italic" textLength="108" lengthAdjust="spacingAndGlyphs"><tspan font-style="normal">(</tspan>m<tspan font-size="8" dy="2">p</tspan><tspan dy="-2">,m</tspan><tspan font-size="8" dy="2">f</tspan><tspan dy="-2" font-style="normal">)</tspan>∼B(p<tspan font-size="8" dy="2" font-style="normal">mask</tspan><tspan dy="-2" font-style="normal">)</tspan></text>
 <rect x="945.5" y="831.8" width="209.3" height="26.7" rx="4" fill="#b1f190"/>
 <rect x="1036.6" y="830.8" width="84.4" height="30.2" fill="url(#hatchw)" stroke="#c0504d" stroke-width="2.5"/>
 <text x="948" y="851" font-size="17" textLength="196" lengthAdjust="spacingAndGlyphs">||ϵ − ϵ<tspan font-size="11" dy="3" font-style="italic">θ</tspan><tspan dy="-3">(</tspan><tspan font-weight="bold">x</tspan><tspan font-size="11" dy="3" font-style="italic">t</tspan><tspan dy="-3"> | </tspan><tspan font-style="italic">m</tspan><tspan font-size="11" dy="3" font-style="italic">p</tspan><tspan dy="-3" font-weight="bold">p</tspan>, <tspan font-style="italic">m</tspan><tspan font-size="11" dy="3" font-style="italic">f</tspan><tspan dy="-3" font-weight="bold">f</tspan>, <tspan font-style="italic">t</tspan>)||</text>
 <text x="1146" y="843" font-size="10">2</text><text x="1146" y="855" font-size="10">2</text>
</g>

<!-- RIGHT COLUMN -->
<text x="1181" y="285.6" font-family="'Liberation Mono',monospace" font-weight="bold" font-size="15.5" fill="#6736ae" textLength="329" lengthAdjust="spacingAndGlyphs">mask-cond-video-diffusion.github.io</text>
<text x="1241.7" y="306.5" font-size="17" fill="#111" textLength="233" lengthAdjust="spacingAndGlyphs">Our videos, code, etc. are here!</text>

<rect x="1180.4" y="336.5" width="326.2" height="544.5" rx="14" fill="#fff" stroke="#6736ae" stroke-width="3.5"/>
<path d="M1180.4,360.6 V350.5 a14,14 0 0 1 14,-14 H1492.6 a14,14 0 0 1 14,14 V360.6 Z" fill="#6736ae"/>
<text x="1344" y="354" font-size="17" font-weight="bold" fill="#fff" text-anchor="middle">Results</text>
<text x="1190" y="378" font-size="14" fill="#111" textLength="68" lengthAdjust="spacingAndGlyphs">(128x128)</text>
<line x1="1186" y1="384.5" x2="1502" y2="384.5" stroke="#111" stroke-width="1.5"/>
<line x1="1186" y1="405.3" x2="1502" y2="405.3" stroke="#111" stroke-width="0.8"/>
<line x1="1405" y1="389.5" x2="1405" y2="504.8" stroke="#111" stroke-width="0.8"/>
<line x1="1437" y1="389.5" x2="1437" y2="504.8" stroke="#111" stroke-width="0.8"/>
<line x1="1186" y1="509" x2="1502" y2="509" stroke="#111" stroke-width="1.5"/>
<line x1="1180.4" y1="513.2" x2="1506.6" y2="513.2" stroke="#6736ae" stroke-width="3"/>
<rect x="1417.9" y="470.7" width="13.8" height="35" fill="none" stroke="#6736ae" stroke-width="2"/>
<g font-family="'Liberation Serif',serif" font-size="13.5" fill="#111">
 <text x="1191" y="399.8" textLength="198" lengthAdjust="spacingAndGlyphs"><tspan font-weight="bold">Cityscapes</tspan> [2 → 28; trained on <tspan font-style="italic">k</tspan>]</text>
 <text x="1421" y="399.8" font-style="italic" text-anchor="middle">k</text>
 <text x="1446" y="399.8" textLength="36" lengthAdjust="spacingAndGlyphs">FVD↓</text>
 <text x="1191" y="422.3" textLength="204" lengthAdjust="spacingAndGlyphs">SVG-LP <tspan fill="#9ede86">Denton and Fergus</tspan> [<tspan fill="#9ede86">2018</tspan>]</text>
 <text x="1191" y="437.8" textLength="192" lengthAdjust="spacingAndGlyphs">vRNN 1L  <tspan fill="#9ede86">Castrejón et al.</tspan> [<tspan fill="#9ede86">2019</tspan>]</text>
 <text x="1191" y="453.5" textLength="203" lengthAdjust="spacingAndGlyphs">Hier-vRNN  <tspan fill="#9ede86">Castrejón et al.</tspan> [<tspan fill="#9ede86">2019</tspan>]</text>
 <text x="1191" y="469" textLength="145" lengthAdjust="spacingAndGlyphs">GHVAE <tspan fill="#9ede86">Wu et al.</tspan> [<tspan fill="#9ede86">2021</tspan>]</text>
 <text x="1191" y="484.8" textLength="109" lengthAdjust="spacingAndGlyphs"><tspan font-weight="bold">MCVD</tspan> spatin (Ours)</text>
 <text x="1191" y="500.7" textLength="111" lengthAdjust="spacingAndGlyphs"><tspan font-weight="bold">MCVD</tspan> concat (Ours)</text>
 <g text-anchor="end">
  <text x="1428" y="422.3">10</text><text x="1428" y="437.8">10</text><text x="1428" y="453.5">10</text><text x="1428" y="469">10</text>
  <text x="1428" y="484.8" font-weight="bold">5</text><text x="1428" y="500.7" font-weight="bold">5</text>
  <text x="1492.5" y="422.3">1300.26</text><text x="1492.5" y="437.8">682.08</text><text x="1492.5" y="453.5">567.51</text><text x="1492.5" y="469">418.00</text>
  <text x="1492.5" y="484.8">184.81</text><text x="1492.5" y="500.7" font-weight="bold">141.31</text>
 </g>
</g>

<text x="1190" y="529" font-size="13" fill="#111" textLength="48" lengthAdjust="spacingAndGlyphs">(64x64)</text>
<line x1="1185.7" y1="534.7" x2="1502" y2="534.7" stroke="#111" stroke-width="1.3"/>
<line x1="1185.7" y1="551.9" x2="1502" y2="551.9" stroke="#777" stroke-width="0.7"/>
<line x1="1185.7" y1="691.6" x2="1502" y2="691.6" stroke="#888" stroke-width="0.7"/>
<line x1="1185.7" y1="764.4" x2="1502" y2="764.4" stroke="#888" stroke-width="0.7"/>
<line x1="1185.7" y1="871.4" x2="1502" y2="871.4" stroke="#111" stroke-width="1.3"/>
<g stroke="#111" stroke-width="0.6">
 <line x1="1384.2" y1="538.5" x2="1384.2" y2="550.5"/><line x1="1460.4" y1="538.5" x2="1460.4" y2="550.5"/>
 <line x1="1384.2" y1="555" x2="1384.2" y2="690"/><line x1="1460.4" y1="555" x2="1460.4" y2="690"/>
 <line x1="1384.2" y1="694.5" x2="1384.2" y2="762.5"/><line x1="1460.4" y1="694.5" x2="1460.4" y2="762.5"/>
 <line x1="1384.2" y1="767" x2="1384.2" y2="868.5"/><line x1="1460.4" y1="767" x2="1460.4" y2="868.5"/>
</g>
<g fill="none" stroke="#6736ae" stroke-width="1.8">
 <rect x="1410" y="620.5" width="14" height="35.5"/><rect x="1410" y="675.4" width="14" height="14.4"/>
 <rect x="1410" y="704.5" width="14" height="57.7"/><rect x="1410" y="810.7" width="14" height="57.7"/>
</g>
<g font-family="'Liberation Serif',serif" font-size="9.8" fill="#111">
 <text x="1192" y="545.8" textLength="150" lengthAdjust="spacingAndGlyphs"><tspan font-weight="bold">BAIR</tspan> [past <tspan font-style="italic">p</tspan> → <tspan font-style="italic">pred</tspan> ; trained on <tspan font-style="italic">k</tspan>]</text>
 <text x="1393.3" y="545.8" font-style="italic" text-anchor="middle">p</text>
 <text x="1416" y="545.8" font-style="italic" text-anchor="middle">k</text>
 <text x="1443.3" y="545.8" font-style="italic" text-anchor="middle">pred</text>
 <text x="1467" y="545.8" textLength="25.6" lengthAdjust="spacingAndGlyphs">FVD↓</text>

 <text x="1192" y="562.8" textLength="116" lengthAdjust="spacingAndGlyphs">LVT [<tspan fill="#9ede86">Rakhimov et al.</tspan>, <tspan fill="#9ede86">2020</tspan>]</text>
 <text x="1192" y="574" textLength="139.5" lengthAdjust="spacingAndGlyphs">DVD-GAN-FP [<tspan fill="#9ede86">Clark et al.</tspan>, <tspan fill="#9ede86">2019</tspan>]</text>
 <text x="1192" y="585.1" textLength="86" lengthAdjust="spacingAndGlyphs"><tspan font-weight="bold">MCVD</tspan> spatin (Ours)</text>
 <text x="1192" y="596.3" textLength="138" lengthAdjust="spacingAndGlyphs">TrIVD-GAN-FP [<tspan fill="#9ede86">Luc et al.</tspan>, <tspan fill="#9ede86">2020</tspan>]</text>
 <text x="1192" y="607.5" textLength="115" lengthAdjust="spacingAndGlyphs">VideoGPT [<tspan fill="#9ede86">Yan et al.</tspan>, <tspan fill="#9ede86">2021</tspan>]</text>
 <text x="1192" y="618.7" textLength="122" lengthAdjust="spacingAndGlyphs">CCVS [<tspan fill="#9ede86">Le Moing et al.</tspan>, <tspan fill="#9ede86">2021</tspan>]</text>
 <text x="1192" y="629.8" textLength="88.4" lengthAdjust="spacingAndGlyphs"><tspan font-weight="bold">MCVD</tspan> concat (Ours)</text>
 <text x="1192" y="641" textLength="130" lengthAdjust="spacingAndGlyphs"><tspan font-weight="bold">MCVD</tspan> spatin past-mask (Ours)</text>
 <text x="1192" y="652.2" textLength="132" lengthAdjust="spacingAndGlyphs"><tspan font-weight="bold">MCVD</tspan> concat past-mask (Ours)</text>
 <text x="1192" y="663.3" textLength="184" lengthAdjust="spacingAndGlyphs">Video Transformer [<tspan fill="#9ede86">Weissenborn et al.</tspan>, <tspan fill="#9ede86">2019</tspan>]</text>
 <text x="1192" y="674.5" textLength="133" lengthAdjust="spacingAndGlyphs">FitVid [<tspan fill="#9ede86">Babaeizadeh et al.</tspan>, <tspan fill="#9ede86">2021</tspan>]</text>
 <text x="1192" y="685.7" textLength="159.5" lengthAdjust="spacingAndGlyphs"><tspan font-weight="bold">MCVD</tspan> concat past-future-mask (Ours)</text>

 <text x="1192" y="702.8" textLength="95.5" lengthAdjust="spacingAndGlyphs">SAVP [<tspan fill="#9ede86">Lee et al.</tspan>, <tspan fill="#9ede86">2018</tspan>]</text>
 <text x="1192" y="713.8" textLength="86" lengthAdjust="spacingAndGlyphs"><tspan font-weight="bold">MCVD</tspan> spatin (Ours)</text>
 <text x="1192" y="724.8" textLength="130" lengthAdjust="spacingAndGlyphs"><tspan font-weight="bold">MCVD</tspan> spatin past-mask (Ours)</text>
 <text x="1192" y="736.1" textLength="88.4" lengthAdjust="spacingAndGlyphs"><tspan font-weight="bold">MCVD</tspan> concat (Ours)</text>
 <text x="1192" y="747.4" textLength="159.5" lengthAdjust="spacingAndGlyphs"><tspan font-weight="bold">MCVD</tspan> concat past-future-mask (Ours)</text>
 <text x="1192" y="758.4" textLength="132" lengthAdjust="spacingAndGlyphs"><tspan font-weight="bold">MCVD</tspan> concat past-mask (Ours)</text>

 <text x="1192" y="775.1" textLength="113" lengthAdjust="spacingAndGlyphs">SVG-LP [<tspan fill="#9ede86">Akan et al.</tspan>, <tspan fill="#9ede86">2021</tspan>]</text>
 <text x="1192" y="786.3" textLength="111" lengthAdjust="spacingAndGlyphs">SLAMP [<tspan fill="#9ede86">Akan et al.</tspan>, <tspan fill="#9ede86">2021</tspan>]</text>
 <text x="1192" y="797.5" textLength="95.5" lengthAdjust="spacingAndGlyphs">SAVP [<tspan fill="#9ede86">Lee et al.</tspan>, <tspan fill="#9ede86">2018</tspan>]</text>
 <text x="1192" y="808.7" textLength="145" lengthAdjust="spacingAndGlyphs">Hier-vRNN  [<tspan fill="#9ede86">Castrejón et al.</tspan>, <tspan fill="#9ede86">2019</tspan>]</text>
 <text x="1192" y="820" textLength="86" lengthAdjust="spacingAndGlyphs"><tspan font-weight="bold">MCVD</tspan> spatin (Ours)</text>
 <text x="1192" y="831.2" textLength="130" lengthAdjust="spacingAndGlyphs"><tspan font-weight="bold">MCVD</tspan> spatin past-mask (Ours)</text>
 <text x="1192" y="842.4" textLength="88.4" lengthAdjust="spacingAndGlyphs"><tspan font-weight="bold">MCVD</tspan> concat (Ours)</text>
 <text x="1192" y="853.6" textLength="132" lengthAdjust="spacingAndGlyphs"><tspan font-weight="bold">MCVD</tspan> concat past-mask (Ours)</text>
 <text x="1192" y="864.9" textLength="159.5" lengthAdjust="spacingAndGlyphs"><tspan font-weight="bold">MCVD</tspan> concat past-future-mask (Ours)</text>

 <g text-anchor="middle">
  <text x="1393.3" y="562.8">1</text><text x="1393.3" y="574">1</text><text x="1393.3" y="585.1">1</text><text x="1393.3" y="596.3">1</text><text x="1393.3" y="607.5">1</text><text x="1393.3" y="618.7">1</text>
  <text x="1393.3" y="629.8">1</text><text x="1393.3" y="641">1</text><text x="1393.3" y="652.2">1</text><text x="1393.3" y="663.3">1</text><text x="1393.3" y="674.5">1</text><text x="1393.3" y="685.7">1</text>
  <text x="1393.3" y="702.8">2</text><text x="1393.3" y="713.8">2</text><text x="1393.3" y="724.8">2</text><text x="1393.3" y="736.1">2</text><text x="1393.3" y="747.4">2</text><text x="1393.3" y="758.4">2</text>
  <text x="1393.3" y="775.1">2</text><text x="1393.3" y="786.3">2</text><text x="1393.3" y="797.5">2</text><text x="1393.3" y="808.7">2</text><text x="1393.3" y="820">2</text><text x="1393.3" y="831.2">2</text><text x="1393.3" y="842.4">2</text><text x="1393.3" y="853.6">2</text><text x="1393.3" y="864.9">2</text>
 </g>
 <g text-anchor="end">
  <text x="1419.2" y="562.8">15</text><text x="1419.2" y="574">15</text><text x="1419.2" y="585.1" font-weight="bold">5</text><text x="1419.2" y="596.3">15</text><text x="1419.2" y="607.5">15</text><text x="1419.2" y="618.7">15</text>
  <text x="1419.2" y="629.8" font-weight="bold">5</text><text x="1419.2" y="641" font-weight="bold">5</text><text x="1419.2" y="652.2" font-weight="bold">5</text><text x="1419.2" y="663.3">15</text><text x="1419.2" y="674.5">15</text><text x="1419.2" y="685.7" font-weight="bold">5</text>
  <text x="1419.2" y="702.8">14</text><text x="1419.2" y="713.8" font-weight="bold">5</text><text x="1419.2" y="724.8" font-weight="bold">5</text><text x="1419.2" y="736.1" font-weight="bold">5</text><text x="1419.2" y="747.4" font-weight="bold">5</text><text x="1419.2" y="758.4" font-weight="bold">5</text>
  <text x="1419.2" y="775.1">10</text><text x="1419.2" y="786.3">10</text><text x="1419.2" y="797.5">10</text><text x="1419.2" y="808.7">10</text><text x="1419.2" y="820" font-weight="bold">5</text><text x="1419.2" y="831.2" font-weight="bold">5</text><text x="1419.2" y="842.4" font-weight="bold">5</text><text x="1419.2" y="853.6" font-weight="bold">5</text><text x="1419.2" y="864.9" font-weight="bold">5</text>

  <text x="1448" y="562.8">15</text><text x="1448" y="574">15</text><text x="1448" y="585.1">15</text><text x="1448" y="596.3">15</text><text x="1448" y="607.5">15</text><text x="1448" y="618.7">15</text>
  <text x="1448" y="629.8">15</text><text x="1448" y="641">15</text><text x="1448" y="652.2">15</text><text x="1448" y="663.3">15</text><text x="1448" y="674.5">15</text><text x="1448" y="685.7">15</text>
  <text x="1448" y="702.8">14</text><text x="1448" y="713.8">14</text><text x="1448" y="724.8">14</text><text x="1448" y="736.1">14</text><text x="1448" y="747.4">14</text><text x="1448" y="758.4">14</text>
  <text x="1448" y="775.1">28</text><text x="1448" y="786.3">28</text><text x="1448" y="797.5">28</text><text x="1448" y="808.7">28</text><text x="1448" y="820">28</text><text x="1448" y="831.2">28</text><text x="1448" y="842.4">28</text><text x="1448" y="853.6">28</text><text x="1448" y="864.9">28</text>

  <text x="1492.2" y="562.8">125.8</text><text x="1492.2" y="574">109.8</text><text x="1492.2" y="585.1">103.8</text><text x="1492.2" y="596.3">103.3</text><text x="1492.2" y="607.5">103.3</text><text x="1492.2" y="618.7">99.0</text>
  <text x="1492.2" y="629.8">98.8</text><text x="1492.2" y="641">96.5</text><text x="1492.2" y="652.2" font-weight="bold">95.6</text><text x="1492.2" y="663.3">94-96<tspan font-size="6" dy="-4">a</tspan></text><text x="1492.2" y="674.5">93.6</text><text x="1492.2" y="685.7" font-weight="bold">89.5</text>
  <text x="1492.2" y="702.8">116.4</text><text x="1492.2" y="713.8">94.1</text><text x="1492.2" y="724.8">90.5</text><text x="1492.2" y="736.1">90.5</text><text x="1492.2" y="747.4">89.6</text><text x="1492.2" y="758.4" font-weight="bold">87.9</text>
  <text x="1492.2" y="775.1">256.6</text><text x="1492.2" y="786.3">245.0</text><text x="1492.2" y="797.5">143.4</text><text x="1492.2" y="808.7">143.4</text><text x="1492.2" y="820">132.1</text><text x="1492.2" y="831.2">127.9</text><text x="1492.2" y="842.4">120.6</text><text x="1492.2" y="853.6">119.0</text><text x="1492.2" y="864.9" font-weight="bold">118.4</text>
 </g>
</g>
</svg>
</body></html>
